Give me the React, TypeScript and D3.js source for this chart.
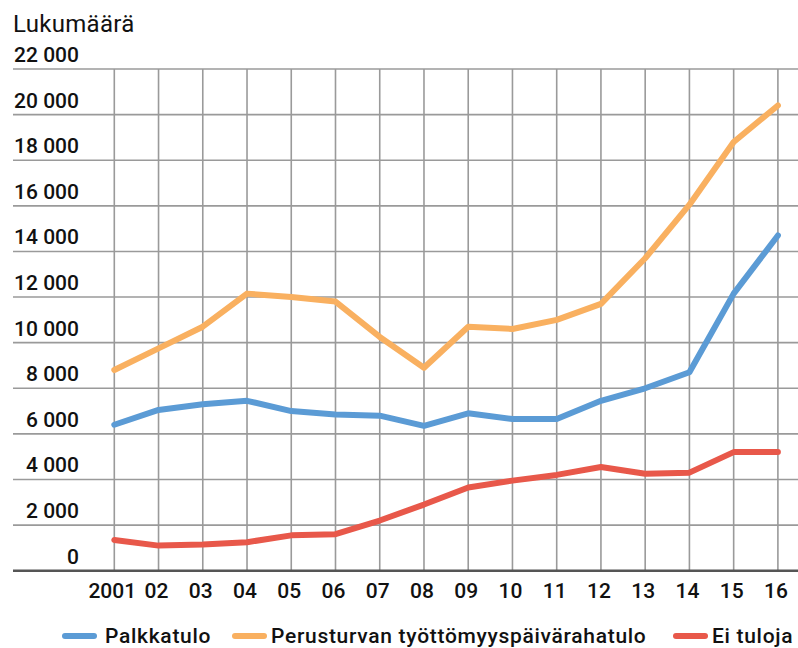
import React from "react";
import * as d3 from "d3";

const years = ["2001", "02", "03", "04", "05", "06", "07", "08", "09", "10", "11", "12", "13", "14", "15", "16"];
const palkkatulo = [6400, 7050, 7300, 7450, 7000, 6850, 6800, 6350, 6900, 6650, 6650, 7450, 8000, 8700, 12150, 14700];
const perusturva = [8800, 9750, 10700, 12150, 12000, 11800, 10250, 8900, 10700, 10600, 11000, 11700, 13700, 16050, 18800, 20400];
const eiTuloja = [1350, 1100, 1150, 1250, 1550, 1600, 2200, 2900, 3650, 3950, 4200, 4550, 4250, 4300, 5200, 5200];
const yTicks = [0, 2000, 4000, 6000, 8000, 10000, 12000, 14000, 16000, 18000, 20000, 22000];
const seriesNames = ["Palkkatulo", "Perusturvan työttömyyspäivärahatulo", "Ei tuloja"];
const colors = ["#5B9BD5", "#F9B060", "#E8584A"];

const W = 798;
const H = 648;
const FONT = "Roboto, 'Noto Sans', sans-serif";

export default function App() {
  const x = d3.scalePoint<string>().domain(years).range([114.3, 777.9]);
  const y = d3.scaleLinear().domain([0, 22000]).range([570.7, 69]);
  const line = d3
    .line<number>()
    .x((_, i) => x(years[i]) as number)
    .y((d) => y(d));
  const fmt = (v: number) => d3.format(",")(v).replace(/,/g, " ");
  const series = [palkkatulo, perusturva, eiTuloja];
  const legendLineX = [62, 232, 673];
  const legendTextX = [105, 271, 712];

  return (
    <svg width={W} height={H} style={{ position: "absolute", left: 0, top: 0, display: "block" }}>
      <rect width={W} height={H} fill="#fff" />
      <text x={13} y={32} fontFamily={FONT} fontSize={24} fontWeight={400} letterSpacing={0.3} fill="#111">
        Lukumäärä
      </text>
      {yTicks.map((t) => (
        <g key={t}>
          {t > 0 && (
            <line x1={13} x2={W} y1={y(t)} y2={y(t)} stroke="#9a9a9a" strokeWidth={1.6} />
          )}
          <text
            x={79}
            y={y(t) - 7}
            textAnchor="end"
            fontFamily={FONT}
            fontSize={21}
            fontWeight={500}
            fill="#111"
          >
            {fmt(t)}
          </text>
        </g>
      ))}
      {years.map((yr) => (
        <g key={yr}>
          <line
            x1={x(yr)}
            x2={x(yr)}
            y1={y(22000)}
            y2={y(0)}
            stroke="#9a9a9a"
            strokeWidth={1.6}
          />
          <text
            x={(x(yr) as number) - 2}
            y={598}
            textAnchor="middle"
            fontFamily={FONT}
            fontSize={21}
            fontWeight={500}
            fill="#111"
          >
            {yr}
          </text>
        </g>
      ))}
      <line x1={13} x2={W} y1={y(0)} y2={y(0)} stroke="#555" strokeWidth={2.4} />
      {series.map((s, i) => (
        <path
          key={i}
          d={line(s) as string}
          fill="none"
          stroke={colors[i]}
          strokeWidth={6}
          strokeLinejoin="round"
          strokeLinecap="round"
        />
      ))}
      {seriesNames.map((n, i) => (
        <g key={n}>
          <line
            x1={legendLineX[i] + 3}
            x2={legendLineX[i] + 32}
            y1={636}
            y2={636}
            stroke={colors[i]}
            strokeWidth={6}
            strokeLinecap="round"
          />
          <text
            x={legendTextX[i]}
            y={643}
            fontFamily={FONT}
            fontSize={21}
            fontWeight={500}
            letterSpacing={0.7}
            fill="#111"
          >
            {n}
          </text>
        </g>
      ))}
    </svg>
  );
}
